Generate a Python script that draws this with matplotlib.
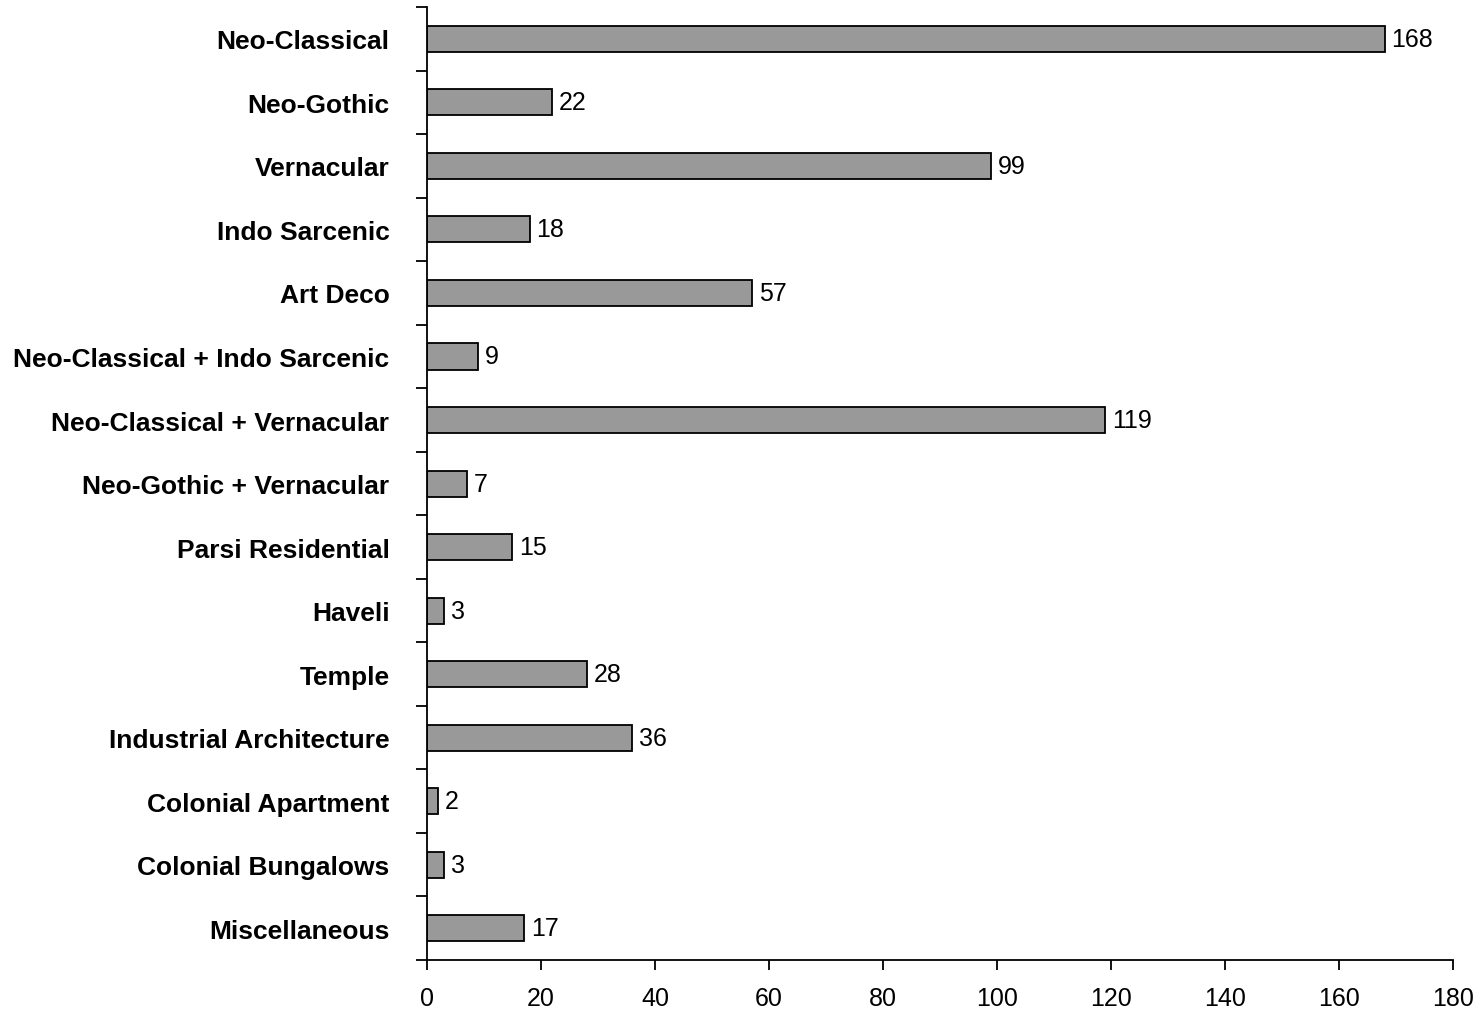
import matplotlib
matplotlib.use("Agg")
import matplotlib.pyplot as plt
import numpy as np

categories = [
    "Neo-Classical", "Neo-Gothic", "Vernacular", "Indo Sarcenic", "Art Deco",
    "Neo-Classical + Indo Sarcenic", "Neo-Classical + Vernacular",
    "Neo-Gothic + Vernacular", "Parsi Residential", "Haveli", "Temple",
    "Industrial Architecture", "Colonial Apartment", "Colonial Bungalows",
    "Miscellaneous",
]
counts = [168, 22, 99, 18, 57, 9, 119, 7, 15, 3, 28, 36, 2, 3, 17]
x_ticks = [0, 20, 40, 60, 80, 100, 120, 140, 160, 180]

plt.rcParams["font.family"] = ["Liberation Sans", "DejaVu Sans"]

fig = plt.figure(figsize=(14.8, 10.12), dpi=100)
ax = fig.add_axes([0.2885, 0.0504, 0.6933, 0.9416])

pos = np.arange(len(categories))
ax.barh(pos, counts, height=0.41, color="#999999", edgecolor="black", linewidth=1.3)

for p, v in zip(pos, counts):
    ax.text(v + 1.2, p, str(v), va="center", ha="left", fontsize=18)

ax.set_ylim(len(categories) - 0.5, -0.5)
ax.set_xlim(0, 180)
ax.set_xticks(x_ticks)
ax.tick_params(axis="x", labelsize=18, length=7, width=1.3, pad=12)

# category labels between tick marks
ax.set_yticks(np.arange(len(categories) + 1) - 0.5)
ax.set_yticklabels([])
ax.tick_params(axis="y", length=8, width=1.3)
ax.set_yticks(pos, minor=True)
ax.set_yticklabels(categories, minor=True, fontsize=19, fontweight="bold")
ax.tick_params(axis="y", which="minor", length=0, pad=27)

for s in ["top", "right"]:
    ax.spines[s].set_visible(False)
for s in ["left", "bottom"]:
    ax.spines[s].set_linewidth(1.3)

fig.savefig("out.png", dpi=100)
